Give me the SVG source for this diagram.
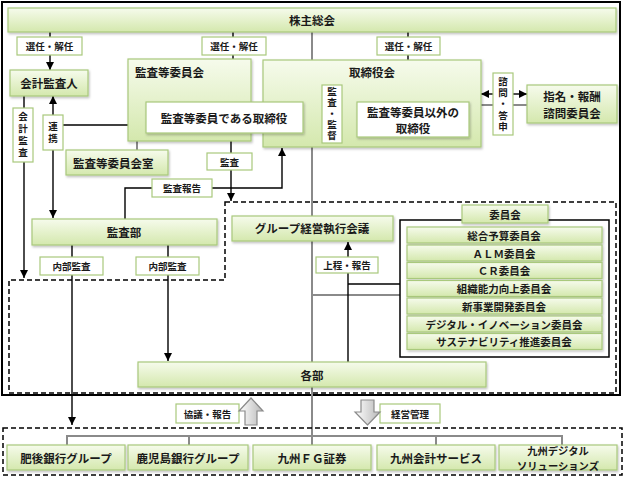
<svg xmlns="http://www.w3.org/2000/svg" width="624" height="478" viewBox="0 0 624 478">
<defs>
<linearGradient id="gg" x1="0" y1="0" x2="0" y2="1">
<stop offset="0" stop-color="#f6fbec"/>
<stop offset="1" stop-color="#d4e8ad"/>
</linearGradient>
<linearGradient id="ga" x1="0" y1="0" x2="1" y2="0">
<stop offset="0" stop-color="#ffffff"/>
<stop offset="1" stop-color="#b8b8b8"/>
</linearGradient>
<filter id="sh" x="-5%" y="-10%" width="115%" height="140%">
<feDropShadow dx="1" dy="1.5" stdDeviation="1" flood-color="#000" flood-opacity="0.25"/>
</filter>
<marker id="ah" markerWidth="8" markerHeight="8" viewBox="0 0 10 10" refX="10" refY="5" orient="auto-start-reverse" markerUnits="userSpaceOnUse">
<path d="M0,0 L10,5 L0,10 z" fill="#000"/>
</marker>
</defs>
<style>
text{font-family:"Noto Sans CJK JP","Noto Sans",sans-serif;font-weight:bold;fill:#1a1a1a;dominant-baseline:central}
.c{text-anchor:middle}
.t{font-size:11.5px}
.l{font-size:9.5px}
.m{font-size:10.5px}
.v{writing-mode:vertical-rl;text-anchor:middle;font-size:9.5px}
.g{fill:url(#gg);stroke:#a9c97c;stroke-width:1.2;filter:url(#sh)}
.w{fill:#fff;stroke:#a9c97c;stroke-width:1.2;filter:url(#sh)}
.lb{fill:#fff;stroke:#a9c97c;stroke-width:1.2}
.k{stroke:#000;stroke-width:1.4;fill:none}
.a{marker-end:url(#ah)}
.gr{stroke:#8a8a8a;stroke-width:2;fill:none}
.d{stroke:#000;stroke-width:1.5;fill:none;stroke-dasharray:5 3}
.ba{fill:url(#ga);stroke:#8a8a8a;stroke-width:1.2}
</style>
<rect x="2" y="2" width="618" height="393" fill="#fff" stroke="#000" stroke-width="2"/>

<g id="gray-lines">
<path class="gr" d="M312,32 V445"/>
<path class="gr" d="M137,141 V150"/>
<path class="gr" d="M481,105 H527"/>
<path class="gr" d="M312,295 H400"/>
<path class="gr" d="M67,445 V436 H562 V445 M189,436 V445 M436,436 V445"/>
</g>

<g id="dashed-areas">
<path class="d" d="M225,202 H616 V393 H9 V280 H225 Z"/>
<rect class="d" x="3" y="428" width="619" height="47"/>
</g>

<g id="connectors">
<path class="k a" d="M50,32 V70"/>
<path class="k a" d="M233,32 V102"/>
<path class="k a" d="M408,32 V102"/>
<path class="k a" d="M24,96 V278"/>
<path class="k a" d="M53,218 V96" style="marker-start:url(#ah)"/>
<path class="k a" d="M53,125 H146"/>
<path class="k a" d="M303,117 H357"/>
<path class="k a" d="M505,94 H481"/>
<path class="k a" d="M505,94 H527"/>
<path class="k a" d="M231,133 V201"/>
<path class="k a" d="M125,219 V188 H282 V148"/>
<path class="k a" d="M72,245 V425"/>
<path class="k a" d="M168,245 V361"/>
<path class="k a" d="M348,362 V242"/>
<path class="k" d="M348,284 H400"/>
</g>

<g id="kabunushi">
<rect class="g" x="8" y="8" width="608" height="24"/>
<text class="c t" x="312" y="20">株主総会</text>
</g>

<g id="kaikei">
<rect class="g" x="10" y="70" width="78" height="26"/>
<text class="c t" x="49" y="83">会計監査人</text>
</g>

<g id="kansatou-iinkai">
<rect class="g" x="128" y="59" width="123" height="82"/>
<text class="t" x="135" y="72">監査等委員会</text>
</g>

<g id="torishimariyakukai">
<rect class="g" x="263" y="60" width="218" height="87"/>
<text class="c t" x="372" y="72">取締役会</text>
</g>

<g id="kansa-torishimari">
<rect class="w" x="146" y="102" width="157" height="31"/>
<text class="c t" x="224" y="118">監査等委員である取締役</text>
</g>

<g id="igai-torishimari">
<rect class="w" x="357" y="102" width="112" height="35"/>
<text class="c t"><tspan x="413" y="111.5">監査等委員以外の</tspan><tspan x="413" y="128">取締役</tspan></text>
</g>

<g id="shimei">
<rect class="g" x="527" y="85" width="90" height="38"/>
<text class="c t"><tspan x="572" y="96">指名・報酬</tspan><tspan x="572" y="113">諮問委員会</tspan></text>
</g>

<g id="kansa-shitsu">
<rect class="g" x="66" y="150" width="102" height="25"/>
<text class="t" x="73" y="163">監査等委員会室</text>
</g>

<g id="kansabu">
<rect class="g" x="32" y="219" width="185" height="26"/>
<text class="c t" x="124" y="232">監査部</text>
</g>

<g id="group-keiei">
<rect class="g" x="232" y="216" width="161" height="25"/>
<text class="c t" x="312" y="228">グループ経営執行会議</text>
</g>

<g id="iinkai">
<rect x="400" y="220" width="209" height="137" fill="#fff" stroke="#000" stroke-width="1.5"/>
<rect class="g" x="462" y="205" width="86" height="18"/>
<text class="c m" x="505" y="214">委員会</text>
<rect class="g" x="407" y="227" width="195" height="16"/>
<text class="c m" x="504" y="235">総合予算委員会</text>
<rect class="g" x="407" y="245" width="195" height="16"/>
<text class="c m" x="504" y="253">ＡＬＭ委員会</text>
<rect class="g" x="407" y="262.5" width="195" height="16"/>
<text class="c m" x="504" y="270.5">ＣＲ委員会</text>
<rect class="g" x="407" y="280.5" width="195" height="16"/>
<text class="c m" x="504" y="288.5">組織能力向上委員会</text>
<rect class="g" x="407" y="298" width="195" height="16"/>
<text class="c m" x="504" y="306">新事業開発委員会</text>
<rect class="g" x="407" y="316" width="195" height="16"/>
<text class="c m" x="504" y="324">デジタル・イノベーション委員会</text>
<rect class="g" x="407" y="333.5" width="195" height="16"/>
<text class="c m" x="504" y="341.5">サステナビリティ推進委員会</text>
</g>

<g id="kakubu">
<rect class="g" x="138" y="362" width="348" height="25"/>
<text class="c t" x="312" y="375">各部</text>
</g>

<g id="labels">
<rect class="lb" x="17" y="37" width="65" height="18"/>
<text class="c l" x="49.5" y="46">選任・解任</text>
<rect class="lb" x="202" y="37" width="64" height="18"/>
<text class="c l" x="234" y="46">選任・解任</text>
<rect class="lb" x="377" y="37" width="63" height="18"/>
<text class="c l" x="408.5" y="46">選任・解任</text>
<rect class="lb" x="13" y="108" width="20" height="54"/>
<text class="v" x="23" y="136" style="letter-spacing:2.5px">会計監査</text>
<rect class="lb" x="43" y="115" width="20" height="35"/>
<text class="v" x="53" y="134" style="letter-spacing:3px">連携</text>
<rect class="lb" x="322" y="85" width="20" height="58"/>
<text class="v" x="332" y="114.5" style="letter-spacing:1.5px">監査・監督</text>
<rect class="lb" x="493" y="73" width="20" height="62"/>
<text class="v" x="503" y="104.5" style="letter-spacing:1.8px">諮問・答申</text>
<rect class="lb" x="207" y="153" width="45" height="17"/>
<text class="c l" x="229.5" y="161.5">監査</text>
<rect class="lb" x="152" y="179" width="60" height="18"/>
<text class="c l" x="182" y="188">監査報告</text>
<rect class="lb" x="40" y="257" width="63" height="18"/>
<text class="c l" x="71.5" y="266">内部監査</text>
<rect class="lb" x="136" y="257" width="63" height="18"/>
<text class="c l" x="167.5" y="266">内部監査</text>
<rect class="lb" x="316" y="257" width="62" height="16"/>
<text class="c l" x="347" y="265">上程・報告</text>
<rect class="lb" x="176" y="404" width="63" height="19"/>
<text class="c l" x="207.5" y="413.5">協議・報告</text>
<rect class="lb" x="380" y="404" width="60" height="19"/>
<text class="c l" x="410" y="413.5">経営管理</text>
</g>

<g id="block-arrows">
<path class="ba" d="M251,398 L263,411 L257,411 L257,425 L245,425 L245,411 L239,411 Z"/>
<path class="ba" d="M367.5,425 L380,412 L374,412 L374,400 L361,400 L361,412 L355,412 Z"/>
</g>

<g id="higo">
<rect class="g" x="7" y="445" width="118" height="25"/>
<text class="c t" x="66" y="458">肥後銀行グループ</text>
</g>
<g id="kagoshima">
<rect class="g" x="128" y="445" width="120" height="25"/>
<text class="c t" x="188" y="458">鹿児島銀行グループ</text>
</g>
<g id="fg-shoken">
<rect class="g" x="253" y="445" width="118" height="25"/>
<text class="c t" x="312" y="458">九州ＦＧ証券</text>
</g>
<g id="kaikei-service">
<rect class="g" x="377" y="445" width="118" height="25"/>
<text class="c t" x="436" y="458">九州会計サービス</text>
</g>
<g id="digital">
<rect class="g" x="499" y="445" width="118" height="25"/>
<text class="c" style="font-size:10.3px"><tspan x="558" y="450">九州デジタル</tspan><tspan x="558" y="465">ソリューションズ</tspan></text>
</g>
</svg>
